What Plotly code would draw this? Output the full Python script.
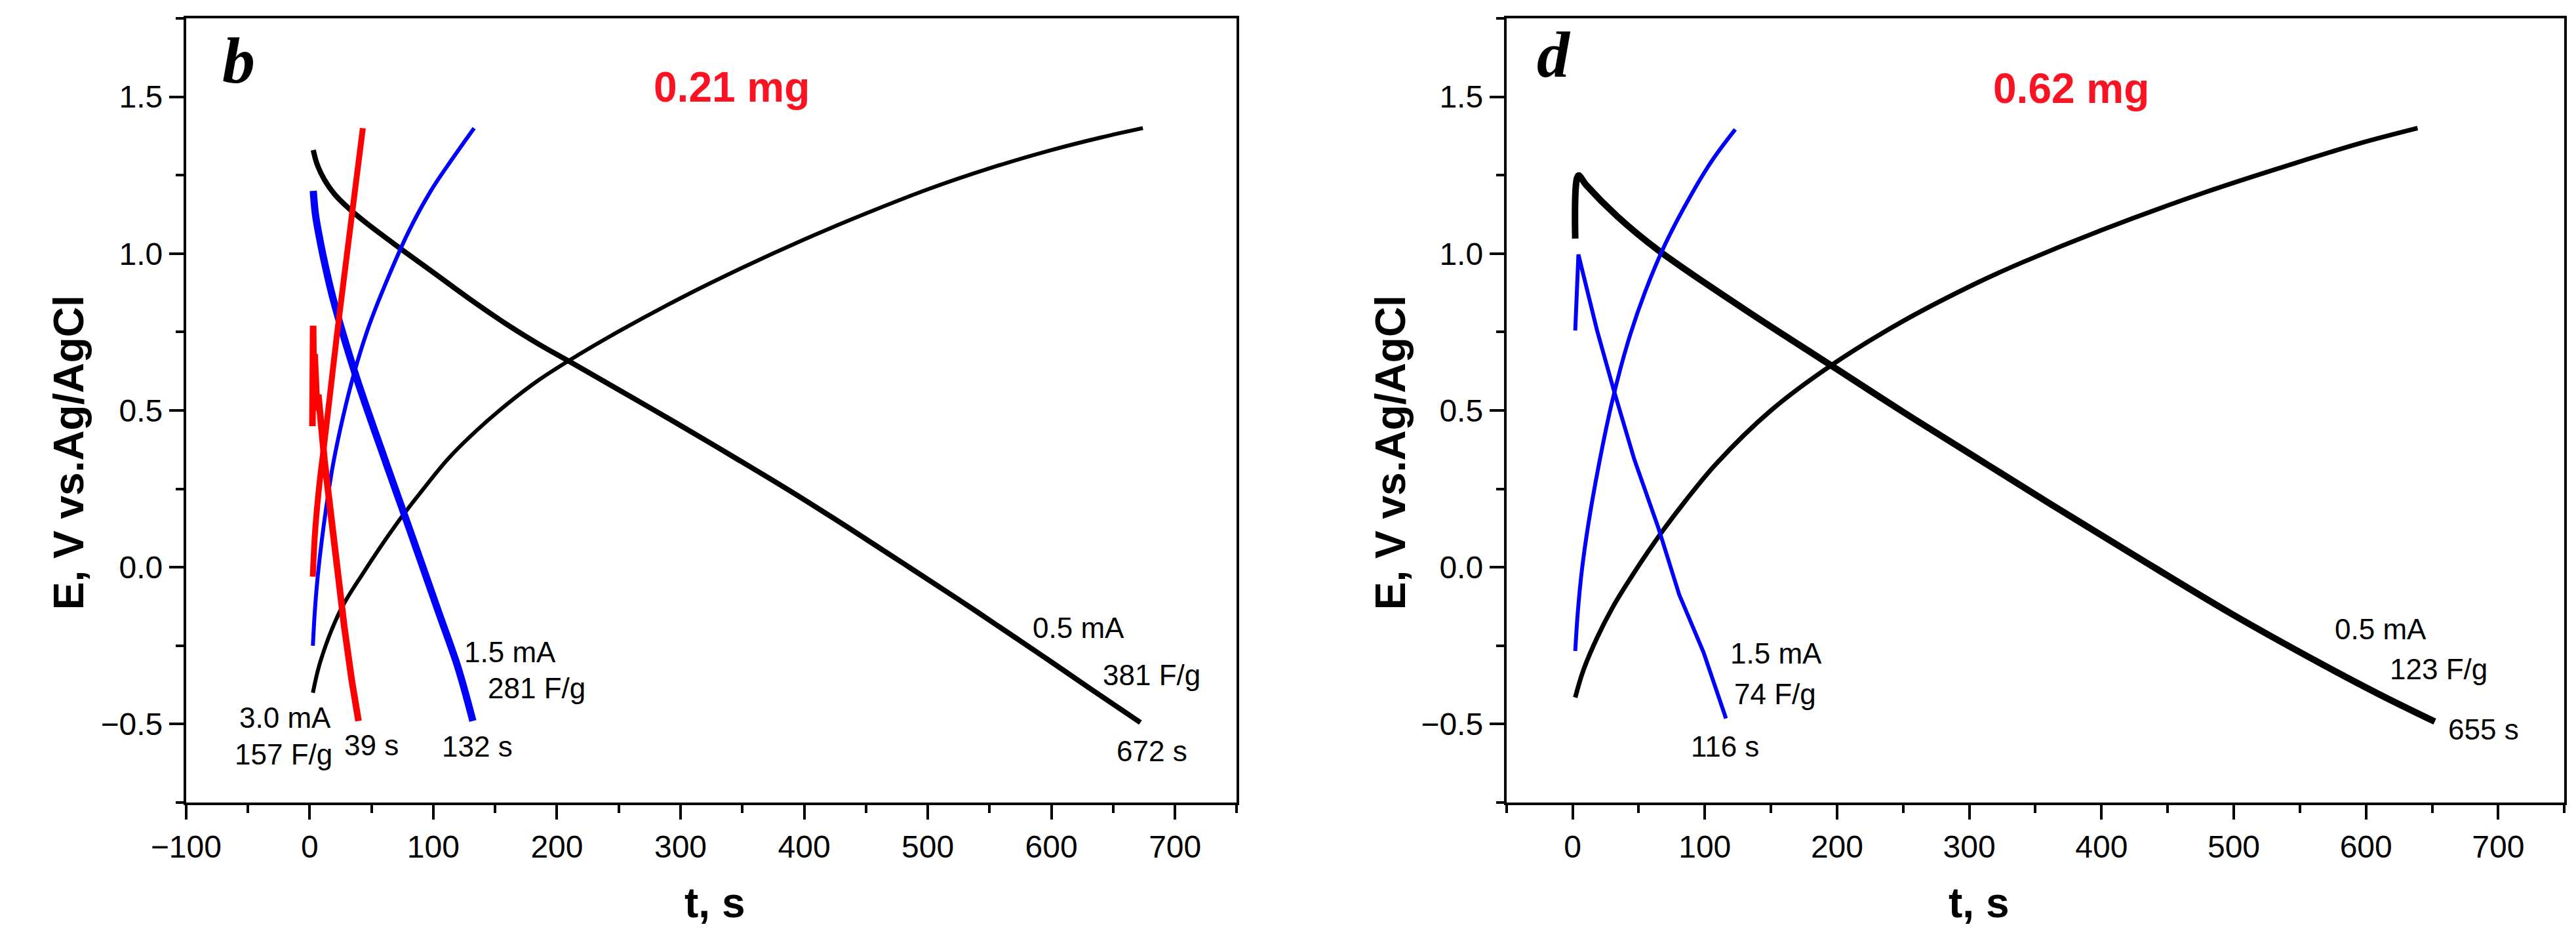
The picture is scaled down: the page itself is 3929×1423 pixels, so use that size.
import plotly.graph_objects as go

# ---------------- Panel b (0.21 mg) ----------------
b_black_charge_t = [2.6, 8.7, 24.5, 43, 70, 90, 112, 135, 160, 185, 211, 250, 300, 350, 400, 450, 500, 550, 600, 640, 674]
b_black_charge_E = [-0.40, -0.30, -0.14, -0.02, 0.137, 0.24, 0.346, 0.436, 0.521, 0.596, 0.662, 0.752, 0.858, 0.955, 1.045, 1.128, 1.205, 1.272, 1.33, 1.37, 1.40]
b_black_dis_t = [2.9, 6, 12, 20, 30, 45, 72, 100, 128.5, 160, 185, 211, 250, 300, 345, 390, 435, 480, 525, 570, 600, 630, 672]
b_black_dis_E = [1.33, 1.285, 1.235, 1.19, 1.15, 1.10, 1.02, 0.94, 0.858, 0.773, 0.712, 0.654, 0.566, 0.452, 0.347, 0.24, 0.128, 0.013, -0.103, -0.222, -0.302, -0.383, -0.495]
b_blue_charge_t = [2.6, 4, 6, 9, 13, 19, 27, 36, 48, 62, 80, 98, 115, 133]
b_blue_charge_E = [-0.25, -0.15, -0.05, 0.06, 0.18, 0.33, 0.48, 0.62, 0.77, 0.91, 1.07, 1.20, 1.30, 1.40]
b_blue_dis_t = [2.9, 4.5, 7, 11, 19, 37, 62, 80, 104, 120, 132]
b_blue_dis_E = [1.20, 1.13, 1.07, 0.99, 0.855, 0.615, 0.33, 0.13, -0.14, -0.32, -0.49]
b_red_charge_t = [2.5, 4.5, 8, 12, 17, 22, 28, 35, 43]
b_red_charge_E = [-0.03, 0.12, 0.27, 0.40, 0.57, 0.74, 0.93, 1.15, 1.40]
b_red_dis_t = [2.2, 2.8, 3.2, 4.0, 4.6, 5.2, 6.0, 7.0, 9, 12, 16.8, 22, 28, 34, 39.5]
b_red_dis_E = [0.45, 0.77, 0.60, 0.68, 0.52, 0.62, 0.50, 0.55, 0.46, 0.34, 0.18, 0.0, -0.19, -0.36, -0.49]

# ---------------- Panel d (0.62 mg) ----------------
d_black_charge_t = [2, 8, 18.5, 30, 40, 62, 85, 108.6, 150, 196, 250, 305, 339, 400, 478, 540, 594, 639]
d_black_charge_E = [-0.415, -0.33, -0.225, -0.13, -0.06, 0.08, 0.21, 0.33, 0.50, 0.645, 0.785, 0.905, 0.97, 1.075, 1.195, 1.28, 1.35, 1.40]
d_black_dis_t = [2, 4.4, 10, 34, 65, 128, 196, 250, 305, 362, 426, 499, 565, 610, 652]
d_black_dis_E = [1.048, 1.249, 1.22, 1.118, 1.01, 0.828, 0.642, 0.495, 0.35, 0.20, 0.035, -0.15, -0.305, -0.405, -0.492]
d_blue_charge_t = [2, 4, 7, 12, 20, 30, 42, 55, 70, 90, 106, 123]
d_blue_charge_E = [-0.267, -0.14, -0.01, 0.14, 0.33, 0.53, 0.72, 0.88, 1.03, 1.19, 1.30, 1.396]
d_blue_dis_t = [2, 4.4, 18.5, 31, 46.5, 65, 80.6, 99, 116]
d_blue_dis_E = [0.755, 0.997, 0.755, 0.567, 0.346, 0.124, -0.087, -0.271, -0.482]

# labels
mass_labels = ["0.21 mg", "0.62 mg"]
panel_letters = ["b", "d"]
x_ticks = [-100, 0, 100, 200, 300, 400, 500, 600, 700]
y_ticks = [-0.5, 0.0, 0.5, 1.0, 1.5]

BLACK, BLUE, RED = "#000000", "#0000ff", "#ff0000"

fig = go.Figure()

def add_line(t, e, color, width, xa, ya, shape="spline"):
    fig.add_trace(go.Scatter(x=t, y=e, mode="lines",
                             line=dict(color=color, width=width, shape=shape, smoothing=1.0),
                             xaxis=xa, yaxis=ya, showlegend=False, hoverinfo="skip"))

add_line(b_black_charge_t, b_black_charge_E, BLACK, 6, "x", "y")
add_line(b_black_dis_t, b_black_dis_E, BLACK, 8, "x", "y")
add_line(b_blue_charge_t, b_blue_charge_E, BLUE, 6, "x", "y")
add_line(b_blue_dis_t, b_blue_dis_E, BLUE, 11, "x", "y")
add_line(b_red_charge_t, b_red_charge_E, RED, 9, "x", "y")
add_line(b_red_dis_t, b_red_dis_E, RED, 10, "x", "y", shape="linear")

add_line(d_black_charge_t, d_black_charge_E, BLACK, 7, "x2", "y2")
add_line(d_black_dis_t, d_black_dis_E, BLACK, 10, "x2", "y2")
add_line(d_blue_charge_t, d_blue_charge_E, BLUE, 6, "x2", "y2")
add_line(d_blue_dis_t, d_blue_dis_E, BLUE, 6, "x2", "y2", shape="linear")

tickfont = dict(family="Arial, Liberation Sans, sans-serif", size=48, color="black")

def xaxis(domain, rng, anchor):
    return dict(domain=domain, range=rng, anchor=anchor, showline=True, linecolor="black",
                linewidth=4, mirror=True, ticks="outside", ticklen=22, tickwidth=4,
                tickcolor="black", tickvals=x_ticks, showgrid=False, zeroline=False,
                tickfont=tickfont,
                minor=dict(ticks="outside", ticklen=12, tickwidth=4, tickcolor="black",
                           dtick=50, tick0=0, showgrid=False))

def yaxis(domain, anchor):
    return dict(domain=domain, range=[-0.75, 1.75], anchor=anchor, showline=True,
                linecolor="black", linewidth=4, mirror=True, ticks="outside", ticklen=22,
                tickwidth=4, tickcolor="black", tickvals=y_ticks, tickformat=".1f",
                showgrid=False, zeroline=False, tickfont=tickfont,
                minor=dict(ticks="outside", ticklen=12, tickwidth=4, tickcolor="black",
                           dtick=0.25, tick0=0, showgrid=False))

W, H = 3929, 1423
ydom = [1 - 1224 / H, 1 - 28 / H]
fig.update_layout(
    width=W, height=H, autosize=False,
    margin=dict(l=0, r=0, t=0, b=0),
    paper_bgcolor="white", plot_bgcolor="white",
    xaxis=xaxis([233 / W, 1858 / W], [-100, 750], "y"),
    yaxis=yaxis(ydom, "x"),
    xaxis2=xaxis([2275 / W, 3911 / W], [-50, 750], "y2"),
    yaxis2=yaxis(ydom, "x2"),
)

lab = dict(family="Arial, Liberation Sans, sans-serif", size=44, color="black")
ann = []

def A(text, x, y, xref, yref, font, **kw):
    d = dict(text=text, x=x, y=y, xref=xref, yref=yref, showarrow=False, font=font,
             xanchor="center", yanchor="middle")
    d.update(kw)
    ann.append(d)

# panel b labels
A("3.0 mA", -20, -0.48, "x", "y", lab)
A("157 F/g", -21, -0.597, "x", "y", lab)
A("39 s", 50, -0.568, "x", "y", lab)
A("1.5 mA", 162, -0.271, "x", "y", lab)
A("281 F/g", 183.6, -0.386, "x", "y", lab)
A("132 s", 135.5, -0.572, "x", "y", lab)
A("0.5 mA", 622, -0.192, "x", "y", lab)
A("381 F/g", 681, -0.344, "x", "y", lab)
A("672 s", 681.5, -0.585, "x", "y", lab)
# panel d labels
A("1.5 mA", 154, -0.275, "x2", "y2", lab)
A("74 F/g", 153, -0.405, "x2", "y2", lab)
A("116 s", 115.4, -0.572, "x2", "y2", lab)
A("0.5 mA", 611, -0.198, "x2", "y2", lab)
A("123 F/g", 655, -0.324, "x2", "y2", lab)
A("655 s", 689, -0.516, "x2", "y2", lab)

red_font = dict(family="Arial, Liberation Sans, sans-serif", size=64, color="#fa1423")
A("<b>" + mass_labels[0] + "</b>", 341.5, 1.53, "x", "y", red_font)
A("<b>" + mass_labels[1] + "</b>", 377, 1.526, "x2", "y2", red_font)

letter_font = dict(family="Liberation Serif, Times New Roman, serif", size=100, color="black")
A("<b><i>" + panel_letters[0] + "</i></b>", -57.5, 1.616, "x", "y", letter_font)
A("<b><i>" + panel_letters[1] + "</i></b>", -14, 1.633, "x2", "y2", letter_font)

title_font = dict(family="Arial, Liberation Sans, sans-serif", size=64, color="black")
A("<b>E, V vs.Ag/AgCl</b>", 52 / W, 1 - 690 / H, "paper", "paper", title_font, textangle=-90)
A("<b>E, V vs.Ag/AgCl</b>", 2096 / W, 1 - 690 / H, "paper", "paper", title_font, textangle=-90)
A("<b>t, s</b>", 1050 / W, 1 - 1377 / H, "paper", "paper", title_font)
A("<b>t, s</b>", 3005 / W, 1 - 1377 / H, "paper", "paper", title_font)

fig.update_layout(annotations=ann)
fig.write_html("out.html")
